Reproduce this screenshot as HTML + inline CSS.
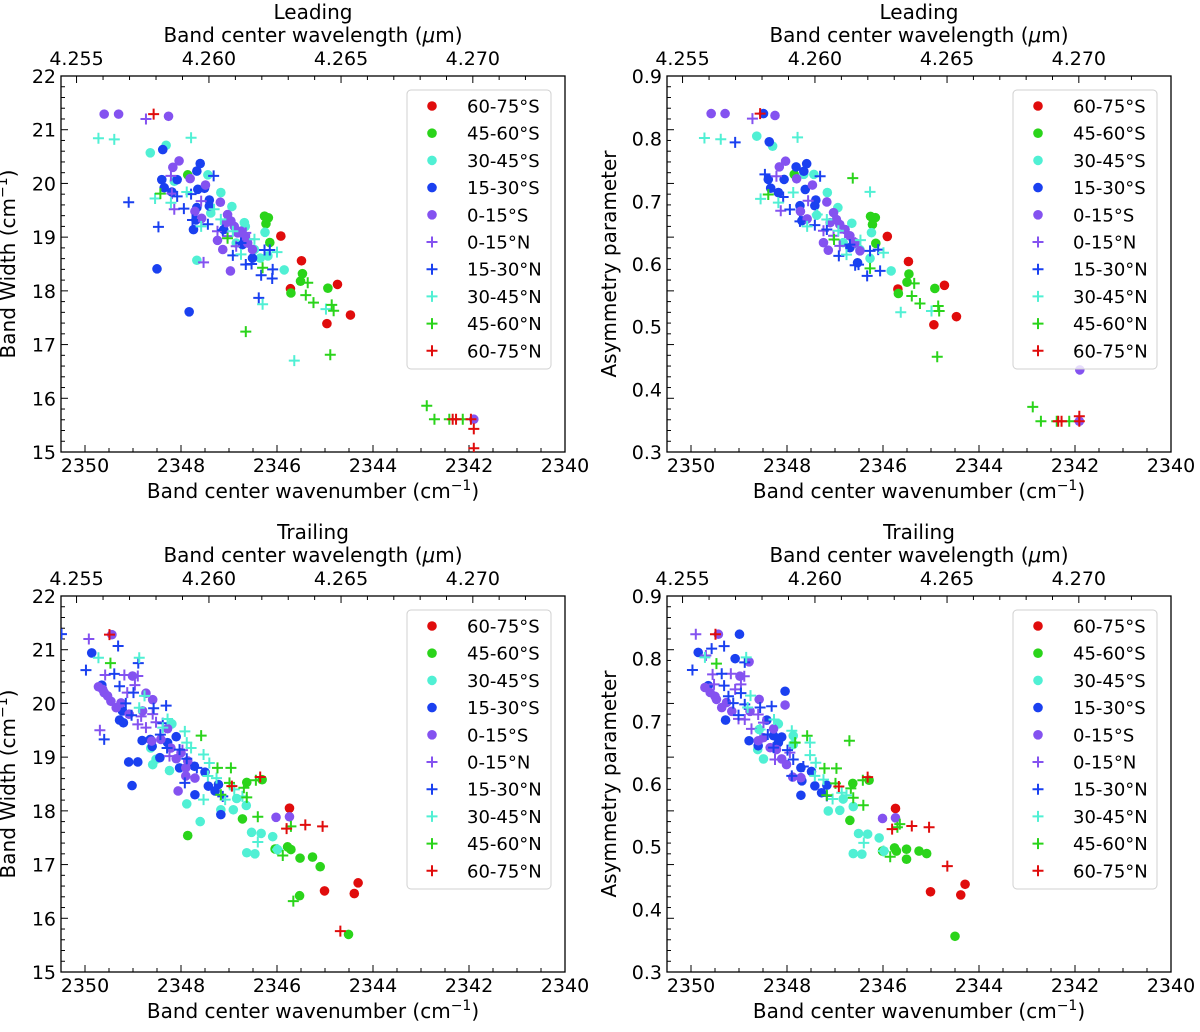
<!DOCTYPE html>
<html><head><meta charset="utf-8"><style>
body{margin:0;background:#fff;}
svg text{font-family:"DejaVu Sans","Liberation Sans",sans-serif;fill:#000;}
</style></head><body>
<svg id="fig" xmlns="http://www.w3.org/2000/svg" width="1200" height="1027" viewBox="0 0 1200 1027"></svg>
<script>
// ---------- DATA (wavenumber cm-1, value) ----------
// Leading, band width
const LW_S6075=[[2345.92,19.02],[2345.49,18.56],[2345.72,18.04],[2344.74,18.12],[2344.47,17.55],[2344.96,17.39]];
const LW_S4560=[[2347.86,20.16],[2346.26,19.39],[2346.18,19.36],[2346.23,19.25],[2346.15,18.90],[2345.47,18.32],[2345.51,18.18],[2345.71,17.96],[2344.94,18.05]];
const LW_S3045=[[2348.64,20.57],[2348.31,20.71],[2347.44,20.16],[2347.17,19.83],[2346.94,19.57],[2346.68,19.27],[2346.66,19.20],[2346.25,19.09],[2346.35,18.61],[2346.19,18.65],[2345.85,18.39],[2347.67,18.57],[2348.14,20.04],[2347.38,19.45],[2346.47,18.77],[2346.85,18.89]];
const LW_S1530=[[2348.38,20.63],[2347.60,20.37],[2347.67,20.23],[2348.40,20.07],[2348.08,20.07],[2348.35,19.92],[2348.19,19.84],[2347.51,19.91],[2347.65,19.89],[2347.41,19.69],[2347.41,19.58],[2347.67,19.55],[2347.69,19.32],[2347.74,19.14],[2347.11,19.14],[2348.50,18.41],[2347.83,17.61],[2346.72,18.86],[2346.51,18.61]];
const LW_S0015=[[2349.60,21.29],[2349.30,21.29],[2348.26,21.25],[2348.17,20.30],[2348.04,20.42],[2347.81,20.09],[2347.49,19.97],[2347.18,19.65],[2347.71,19.48],[2347.57,19.35],[2347.24,18.94],[2347.13,18.77],[2346.97,18.37],[2347.03,19.42],[2346.96,19.30],[2346.89,19.20],[2346.75,19.11],[2346.68,19.02],[2346.61,18.89],[2346.51,18.77],[2347.06,19.27],[2346.82,19.08],[2341.90,15.61]];
const LW_N0015=[[2348.73,21.20],[2348.21,20.14],[2348.19,19.81],[2348.14,19.52],[2347.58,19.67],[2347.53,18.53],[2347.24,19.11],[2347.03,19.02],[2346.65,19.08],[2346.85,18.83],[2346.58,18.96]];
const LW_N1530=[[2349.09,19.65],[2348.47,19.19],[2347.32,20.14],[2347.79,19.80],[2348.08,19.76],[2347.94,19.53],[2347.76,19.32],[2347.44,19.24],[2347.13,19.13],[2346.92,18.66],[2346.65,18.49],[2346.53,18.50],[2346.26,18.76],[2346.15,18.76],[2346.33,18.29],[2346.09,18.40],[2346.10,18.23],[2346.38,17.87],[2346.75,18.89]];
const LW_N3045=[[2349.72,20.84],[2349.39,20.82],[2347.79,20.85],[2348.54,19.72],[2348.21,19.64],[2347.88,19.84],[2347.58,19.20],[2347.31,19.52],[2347.17,19.33],[2346.92,19.11],[2346.75,18.68],[2346.47,18.96],[2346.00,18.72],[2346.30,17.75],[2345.64,16.70],[2344.98,17.66]];
const LW_N4560=[[2348.43,19.81],[2347.03,18.98],[2346.30,18.43],[2345.36,18.15],[2345.40,17.92],[2345.24,17.78],[2344.86,17.74],[2344.82,17.63],[2346.65,17.24],[2344.89,16.81],[2342.88,15.86],[2342.72,15.61],[2342.41,15.61],[2342.13,15.61]];
const LW_N6075=[[2348.57,21.29],[2342.34,15.61],[2342.27,15.61],[2341.96,15.61],[2341.90,15.43],[2341.90,15.07]];
// Leading, asymmetry
const LA_S6075=[[2345.91,0.644],[2345.47,0.604],[2345.69,0.560],[2344.72,0.566],[2344.47,0.516],[2344.94,0.503]];
const LA_S4560=[[2347.85,0.743],[2346.26,0.676],[2346.16,0.674],[2346.22,0.663],[2346.15,0.633],[2345.46,0.584],[2345.50,0.571],[2345.68,0.553],[2344.92,0.561]];
const LA_S3045=[[2348.63,0.804],[2348.30,0.788],[2347.44,0.743],[2347.65,0.743],[2347.16,0.714],[2346.94,0.690],[2346.65,0.665],[2346.24,0.650],[2346.27,0.609],[2345.83,0.589],[2347.38,0.678],[2346.48,0.623],[2346.83,0.634]];
const LA_S1530=[[2348.49,0.840],[2348.37,0.795],[2347.81,0.755],[2347.59,0.760],[2347.65,0.748],[2348.39,0.735],[2348.06,0.735],[2348.34,0.721],[2348.18,0.714],[2347.62,0.719],[2347.40,0.702],[2347.73,0.693],[2347.69,0.669],[2347.42,0.693],[2346.69,0.626],[2346.53,0.602]];
const LA_S0015=[[2349.58,0.840],[2349.29,0.840],[2348.25,0.837],[2348.03,0.764],[2348.16,0.755],[2347.80,0.736],[2347.47,0.726],[2347.17,0.699],[2347.72,0.684],[2347.58,0.672],[2347.24,0.634],[2347.14,0.622],[2347.03,0.682],[2346.97,0.671],[2346.90,0.663],[2346.79,0.655],[2346.69,0.645],[2346.58,0.634],[2346.48,0.621],[2347.10,0.666],[2341.90,0.431],[2341.91,0.349]];
const LA_N0015=[[2348.72,0.832],[2348.22,0.740],[2348.13,0.685],[2347.56,0.701],[2347.24,0.653],[2347.03,0.645],[2346.79,0.650],[2346.90,0.629],[2346.58,0.634]];
const LA_N1530=[[2349.08,0.794],[2348.46,0.743],[2347.31,0.740],[2348.08,0.707],[2347.94,0.687],[2347.73,0.668],[2347.42,0.662],[2347.17,0.655],[2346.92,0.613],[2346.58,0.598],[2346.51,0.599],[2346.27,0.621],[2346.10,0.623],[2346.33,0.581],[2346.06,0.589],[2346.69,0.631]];
const LA_N3045=[[2349.72,0.801],[2349.38,0.799],[2347.78,0.802],[2348.55,0.704],[2348.18,0.698],[2347.87,0.714],[2347.58,0.660],[2347.37,0.679],[2347.17,0.671],[2346.93,0.653],[2346.76,0.615],[2346.47,0.638],[2345.99,0.618],[2346.27,0.715],[2345.63,0.523],[2344.99,0.525]];
const LA_N4560=[[2348.39,0.711],[2347.02,0.639],[2346.27,0.593],[2346.63,0.737],[2345.35,0.569],[2345.40,0.549],[2345.23,0.537],[2344.85,0.533],[2344.83,0.525],[2344.87,0.452],[2342.88,0.372],[2342.71,0.349],[2342.38,0.349],[2342.12,0.349]];
const LA_N6075=[[2348.56,0.840],[2342.35,0.349],[2342.28,0.349],[2341.91,0.349],[2341.91,0.357]];
// Trailing, band width
const TW_S6075=[[2345.74,18.05],[2345.01,16.51],[2344.39,16.46],[2344.31,16.66]];
const TW_S4560=[[2347.86,17.54],[2346.72,17.85],[2346.63,18.53],[2346.31,18.58],[2346.04,17.29],[2345.78,17.33],[2345.71,17.28],[2345.52,17.12],[2345.26,17.14],[2345.10,16.96],[2345.53,16.42],[2344.51,15.70]];
const TW_S3045=[[2348.63,19.17],[2348.59,18.86],[2348.52,18.96],[2348.19,19.62],[2348.24,18.75],[2347.88,18.13],[2347.60,17.80],[2347.17,18.02],[2346.91,18.02],[2346.84,18.23],[2346.64,18.10],[2346.53,17.60],[2346.33,17.58],[2346.09,17.52],[2346.63,17.22],[2346.46,17.20],[2345.99,17.28]];
const TW_S1530=[[2349.86,20.94],[2349.65,20.34],[2349.28,19.69],[2349.20,19.64],[2348.81,19.31],[2348.64,19.33],[2348.60,19.20],[2348.44,18.99],[2349.09,18.91],[2348.90,18.91],[2349.02,18.47],[2348.10,19.38],[2348.03,18.80],[2347.71,18.30],[2347.50,18.72],[2347.43,18.46],[2347.22,18.49],[2347.29,18.37],[2347.17,17.93],[2347.72,18.83],[2348.28,19.27],[2349.22,19.86]];
const TW_S0015=[[2349.44,21.28],[2349.72,20.31],[2349.60,20.20],[2349.46,20.04],[2349.35,19.92],[2349.01,20.51],[2348.73,20.19],[2348.59,20.07],[2348.80,19.86],[2349.08,19.80],[2348.61,19.30],[2348.28,19.53],[2348.10,18.97],[2347.90,18.80],[2347.90,18.65],[2347.71,18.61],[2348.06,18.37],[2346.02,17.88],[2345.74,17.89],[2348.42,19.33],[2348.21,19.17],[2348.00,19.08],[2347.86,18.93],[2349.53,20.14],[2349.25,20.01],[2349.63,20.26]];
const TW_N0015=[[2349.92,21.20],[2349.58,20.53],[2349.18,20.53],[2348.90,20.51],[2348.96,20.34],[2349.69,19.50],[2349.12,20.20],[2348.90,19.61],[2348.73,19.55],[2348.59,19.80],[2348.52,19.65],[2348.24,19.02],[2347.97,19.13],[2348.83,19.76]];
const TW_N1530=[[2349.98,20.62],[2349.31,21.07],[2348.89,20.75],[2349.39,20.55],[2349.28,20.32],[2348.99,20.20],[2349.15,20.00],[2348.57,19.91],[2348.31,19.96],[2349.03,19.78],[2348.38,19.63],[2349.60,19.33],[2348.43,19.42],[2348.29,19.17],[2348.03,19.14],[2347.88,18.97],[2347.67,18.80],[2347.92,18.52],[2347.13,18.27],[2350.49,21.29]];
const TW_N3045=[[2349.72,20.85],[2348.87,20.85],[2348.76,20.14],[2348.87,19.92],[2348.28,19.71],[2347.92,19.48],[2347.88,19.27],[2347.79,19.17],[2347.53,19.05],[2347.41,18.89],[2347.26,18.61],[2347.44,18.65],[2346.89,18.40],[2346.72,18.27],[2347.53,18.21],[2347.08,18.21],[2346.40,17.42],[2345.99,17.28],[2348.38,19.55]];
const TW_N4560=[[2349.47,20.75],[2347.58,19.40],[2347.24,18.80],[2346.96,18.80],[2346.99,18.52],[2347.17,18.30],[2346.69,18.43],[2346.63,18.25],[2346.44,18.57],[2346.40,17.89],[2345.71,17.71],[2345.88,17.17],[2345.66,16.32]];
const TW_N6075=[[2349.49,21.28],[2346.94,18.46],[2346.35,18.63],[2345.80,17.67],[2345.41,17.74],[2345.05,17.71],[2344.68,15.76]];
// Trailing, asymmetry
const TA_S6075=[[2345.74,0.561],[2345.01,0.428],[2344.38,0.423],[2344.29,0.440]];
const TA_S4560=[[2346.69,0.542],[2346.63,0.601],[2346.29,0.606],[2346.01,0.493],[2345.76,0.498],[2345.72,0.493],[2345.51,0.496],[2345.51,0.480],[2345.25,0.493],[2345.09,0.489],[2344.50,0.357]];
const TA_S3045=[[2348.61,0.655],[2348.49,0.640],[2348.58,0.687],[2348.18,0.696],[2347.87,0.677],[2347.14,0.557],[2346.90,0.558],[2346.83,0.576],[2346.62,0.564],[2346.51,0.521],[2346.32,0.520],[2346.08,0.514],[2346.62,0.489],[2346.44,0.488],[2345.98,0.493],[2347.87,0.663]];
const TA_S1530=[[2349.85,0.810],[2348.99,0.839],[2349.08,0.800],[2349.64,0.757],[2349.28,0.702],[2348.79,0.669],[2348.60,0.661],[2348.42,0.702],[2348.11,0.675],[2348.04,0.748],[2347.71,0.626],[2347.49,0.620],[2347.42,0.597],[2347.28,0.586],[2347.17,0.598],[2347.69,0.605],[2347.71,0.582],[2348.18,0.666],[2348.28,0.677]];
const TA_S0015=[[2349.43,0.839],[2348.79,0.795],[2348.98,0.772],[2349.71,0.754],[2349.60,0.746],[2349.47,0.735],[2349.36,0.722],[2349.15,0.716],[2348.77,0.716],[2348.58,0.735],[2348.04,0.726],[2348.28,0.688],[2348.60,0.669],[2348.35,0.658],[2348.11,0.640],[2348.01,0.631],[2347.88,0.611],[2347.71,0.610],[2346.01,0.545],[2345.74,0.546],[2348.49,0.674],[2348.22,0.655],[2349.50,0.740],[2349.26,0.730]];
const TA_N0015=[[2349.90,0.839],[2349.69,0.805],[2349.55,0.775],[2349.17,0.776],[2348.89,0.772],[2348.96,0.759],[2349.52,0.759],[2349.08,0.751],[2348.88,0.703],[2348.74,0.688],[2348.60,0.711],[2348.49,0.698],[2348.25,0.639],[2347.94,0.650],[2349.01,0.704]];
const TA_N1530=[[2349.97,0.782],[2349.57,0.816],[2349.31,0.820],[2348.88,0.794],[2349.36,0.776],[2349.31,0.757],[2348.96,0.745],[2349.22,0.740],[2349.12,0.729],[2348.88,0.727],[2348.56,0.722],[2348.32,0.724],[2349.01,0.710],[2348.40,0.679],[2348.28,0.658],[2347.99,0.654],[2347.87,0.639],[2347.66,0.628],[2347.90,0.613],[2347.17,0.581]];
const TA_N3045=[[2349.71,0.802],[2348.85,0.802],[2348.76,0.741],[2348.82,0.722],[2348.27,0.703],[2347.90,0.685],[2347.85,0.666],[2347.52,0.666],[2347.52,0.646],[2347.40,0.634],[2347.24,0.607],[2347.42,0.613],[2346.86,0.586],[2346.76,0.582],[2347.05,0.576],[2346.40,0.506],[2345.99,0.493],[2348.56,0.687]];
const TA_N4560=[[2349.47,0.792],[2347.58,0.677],[2347.83,0.666],[2347.22,0.625],[2346.97,0.625],[2346.70,0.669],[2346.99,0.601],[2347.17,0.582],[2346.67,0.593],[2346.62,0.578],[2346.42,0.606],[2346.41,0.566],[2345.65,0.536],[2345.70,0.531],[2345.85,0.484]];
const TA_N6075=[[2349.49,0.839],[2346.92,0.596],[2346.32,0.611],[2345.81,0.528],[2345.40,0.533],[2345.04,0.531],[2344.66,0.469]];

const seriesLabels=['60-75°S','45-60°S','30-45°S','15-30°S','0-15°S','0-15°N','15-30°N','30-45°N','45-60°N','60-75°N'];
const xTicks=[2350,2348,2346,2344,2342,2340];
const topTicks=[4.255,4.260,4.265,4.270];
const widthTicks=[15,16,17,18,19,20,21,22];
const asymTicks=[0.3,0.4,0.5,0.6,0.7,0.8,0.9];

// ---------- DRAWING ----------
const NS='http://www.w3.org/2000/svg';
const svg=document.getElementById('fig');
const COL=['#e00c0c','#2ad41a','#50f0d4','#1a40f0','#8452f0','#8452f0','#1a40f0','#50f0d4','#2ad41a','#e00c0c'];
function mk(tag,attrs,parent){const e=document.createElementNS(NS,tag);for(const k in attrs)e.setAttribute(k,attrs[k]);(parent||svg).appendChild(e);return e;}

function panel(cfg){
  const g=mk('g',{});
  
  
  const L=cfg.x0,T=cfg.y0,W=504,H=376,R=L+W,B=T+H;
  const xmin=2350.5,xmax=2340;
  const sx=v=>L+(xmin-v)/(xmin-xmax)*W;
  const sy=v=>B-(v-cfg.ymin)/(cfg.ymax-cfg.ymin)*H;
  const tk=mk('g',{stroke:'#000','stroke-width':1},g);
  
  
  for(let v=2350.5;v>=2340;v-=0.5){const x=sx(v);const maj=Math.abs(v-Math.round(v/2)*2)<1e-6;mk('line',{x1:x,x2:x,y1:B,y2:B-(maj?7:4)},tk);}
  for(let l=4.255;l<=4.2721;l+=0.001){const v=1e4/l;if(v>xmin||v<xmax)continue;const x=sx(v);const maj=Math.abs(l*200-Math.round(l*200))<1e-6;mk('line',{x1:x,x2:x,y1:T,y2:T+(maj?7:4)},tk);}
  const ys=cfg.ymax-cfg.ymin;const mstep=ys/35;
  for(let i=0;i<=35;i++){const v=cfg.ymin+i*mstep;const y=sy(v);mk('line',{x1:L,x2:L+(i%5===0?7:4),y1:y,y2:y},tk);}
  const fr=mk('rect',{x:L,y:T,width:W,height:H,fill:'none',stroke:'#000','stroke-width':1.3},g);
  
  
  xTicks.forEach(v=>{const t=mk('text',{x:sx(v),y:B+20,'font-size':19,'text-anchor':'middle'},g);t.textContent=v;
    
    });
  topTicks.forEach(l=>{const t=mk('text',{x:sx(1e4/l),y:T-11,'font-size':19,'text-anchor':'middle'},g);t.textContent=l.toFixed(3);
    
    });
  cfg.yticks.forEach(v=>{const t=mk('text',{x:L-5,y:sy(v)+7,'font-size':19,'text-anchor':'end'},g);t.textContent=cfg.fmt(v);
    
    });
  const ti=mk('text',{x:L+W/2,y:T-57,'font-size':20,'text-anchor':'middle'},g);ti.textContent=cfg.title;
  
  
  const tx=mk('text',{x:L+W/2,y:T-34,'font-size':20,'text-anchor':'middle'},g);
  tx.innerHTML='Band center wavelength (<tspan font-style="italic">μ</tspan>m)';
  
  
  const bx=mk('text',{x:L+W/2,y:B+46,'font-size':20,'text-anchor':'middle'},g);
  bx.innerHTML='Band center wavenumber (cm<tspan dy="-8" font-size="14">−1</tspan><tspan dy="8">)</tspan>';
  
  
  const yx=L-cfg.ylabOff;
  const yl=mk('text',{x:yx,y:T+H/2,'font-size':20,'text-anchor':'middle',transform:`rotate(-90 ${yx} ${T+H/2})`},g);
  yl.innerHTML=cfg.ylab;
  
  
  const cid='clip'+cfg.name;
  const cp=mk('clipPath',{id:cid},g);mk('rect',{x:L,y:T,width:W,height:H},cp);
  const pts=mk('g',{'clip-path':`url(#${cid})`},g);
  
  
  cfg.data.forEach((arr,si)=>{
    arr.forEach(p=>{
      const x=sx(p[0]),y=sy(p[1]);
      let m;
      if(si<5){m=mk('circle',{cx:x,cy:y,r:4.8,fill:COL[si]},pts);}
      else{m=mk('path',{d:`M${x-5.5},${y}H${x+5.5}M${x},${y-5.5}V${y+5.5}`,stroke:COL[si],'stroke-width':2,fill:'none'},pts);}
      
      
    });
  });
  const lg=mk('g',{},g);
  
  
  mk('rect',{x:L+346,y:T+14,width:144,height:279,rx:4,fill:'#fff','fill-opacity':0.8,stroke:'#d0d0d0','stroke-width':1},lg);
  seriesLabels.forEach((s,i)=>{
    const y=T+30+i*27.2,x=L+371;
    const e=mk('g',{},lg);
    
    
    if(i<5)mk('circle',{cx:x,cy:y,r:4.8,fill:COL[i]},e);
    else mk('path',{d:`M${x-5.5},${y}H${x+5.5}M${x},${y-5.5}V${y+5.5}`,stroke:COL[i],'stroke-width':2},e);
    const t=mk('text',{x:L+406,y:y+6.5,'font-size':18},e);t.textContent=s;
  });
}
const fmt0=v=>String(v), fmt1=v=>v.toFixed(1);
const wl='Band Width (cm<tspan dy="-8" font-size="14">−1</tspan><tspan dy="8">)</tspan>';
panel({name:'leading-width',x0:61,y0:76,ymin:15,ymax:22,yticks:widthTicks,fmt:fmt0,title:'Leading',ylab:wl,ylabOff:46,
  data:[LW_S6075,LW_S4560,LW_S3045,LW_S1530,LW_S0015,LW_N0015,LW_N1530,LW_N3045,LW_N4560,LW_N6075]});
panel({name:'leading-asymmetry',x0:667,y0:76,ymin:0.3,ymax:0.9,yticks:asymTicks,fmt:fmt1,title:'Leading',ylab:'Asymmetry parameter',ylabOff:51,
  data:[LA_S6075,LA_S4560,LA_S3045,LA_S1530,LA_S0015,LA_N0015,LA_N1530,LA_N3045,LA_N4560,LA_N6075]});
panel({name:'trailing-width',x0:61,y0:596,ymin:15,ymax:22,yticks:widthTicks,fmt:fmt0,title:'Trailing',ylab:wl,ylabOff:46,
  data:[TW_S6075,TW_S4560,TW_S3045,TW_S1530,TW_S0015,TW_N0015,TW_N1530,TW_N3045,TW_N4560,TW_N6075]});
panel({name:'trailing-asymmetry',x0:667,y0:596,ymin:0.3,ymax:0.9,yticks:asymTicks,fmt:fmt1,title:'Trailing',ylab:'Asymmetry parameter',ylabOff:51,
  data:[TA_S6075,TA_S4560,TA_S3045,TA_S1530,TA_S0015,TA_N0015,TA_N1530,TA_N3045,TA_N4560,TA_N6075]});
</script>
</body></html>
